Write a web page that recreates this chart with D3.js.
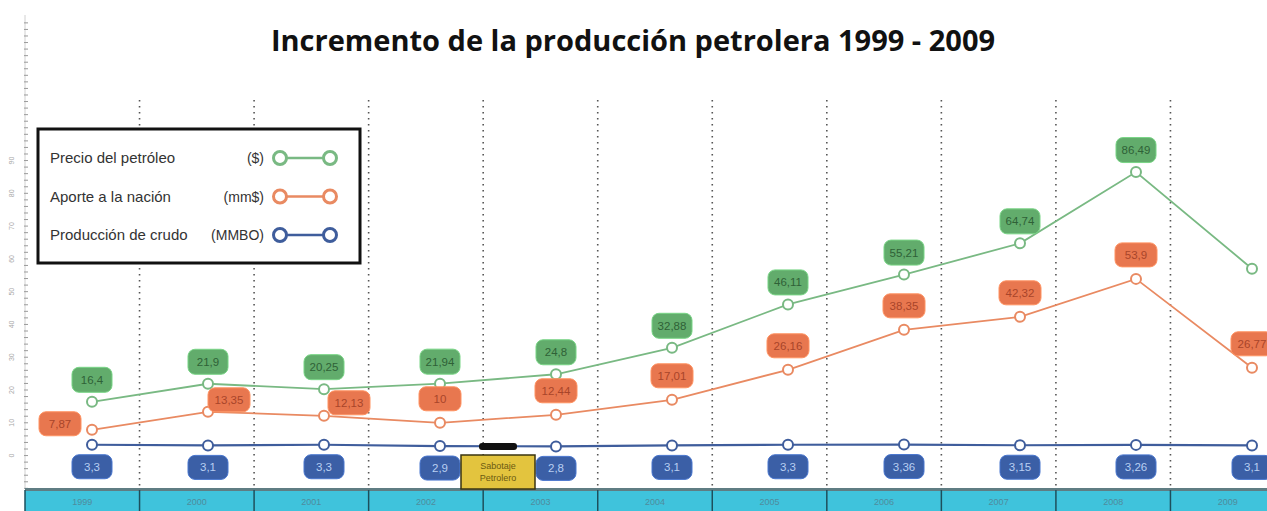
<!DOCTYPE html>
<html>
<head>
<meta charset="utf-8">
<script src="https://cdn.jsdelivr.net/npm/d3@7"></script>
<style>
  body { margin: 0; background: #fff; }
  svg { display: block; }
</style>
</head>
<body>
<svg id="chart" width="1267" height="511"></svg>
<script>
// Years of the series
const years = ["1999", "2000", "2001", "2002", "2003", "2004", "2005", "2006", "2007", "2008", "2009"];
// Precio del petróleo ($)
const precio = [16.4, 21.9, 20.25, 21.94, 24.8, 32.88, 46.11, 55.21, 64.74, 86.49, 57.01];
// Aporte a la nación (mm$)
const aporte = [7.87, 13.35, 12.13, 10.0, 12.44, 17.01, 26.16, 38.35, 42.32, 53.9, 26.77];
// Producción de crudo (MMBO)
const produccion = [3.3, 3.1, 3.3, 2.9, 2.8, 3.1, 3.3, 3.36, 3.15, 3.26, 3.1];
// Years whose price bubble is shown
const precioConEtiqueta = ["1999", "2000", "2001", "2002", "2003", "2004", "2005", "2006", "2007", "2008"];
// Left axis labelled tick values
const yTicks = [0, 10, 20, 30, 40, 50, 60, 70, 80, 90];

const legendItems = [
  { name: "Precio del petróleo", unit: "($)", key: "precio" },
  { name: "Aporte a la nación", unit: "(mm$)", key: "aporte" },
  { name: "Producción de crudo", unit: "(MMBO)", key: "produccion" }
];

const W = 1267, H = 511;
const svg = d3.select("#chart");

const colors = {
  precio:     { line: "#79b983", box: "#62ac6c", text: "#2f6137" },
  aporte:     { line: "#e98a62", box: "#e8774f", text: "#a8452a" },
  produccion: { line: "#3f5d9c", box: "#3b5fa6", text: "#b9cff2" }
};

const fmt = d3.formatLocale({ decimal: ",", thousands: ".", grouping: [3], currency: ["$", ""] }).format(".2~f");

// Scales
const x = d3.scalePoint().domain(years).range([92, 1252]);
const band = d3.scaleBand().domain(years).range([25, 1285]).paddingInner(0).paddingOuter(0);
const y = d3.scaleLinear().domain([-10.2, 134.4]).range([489, 15]);

// Left axis: dense minor ticks with small rotated labels
const axisG = svg.append("g").attr("class", "y-axis");
axisG.append("line")
  .attr("x1", 25).attr("x2", 25).attr("y1", 15).attr("y2", 489)
  .attr("stroke", "#d0d0d0").attr("stroke-width", 1);
axisG.selectAll("line.minor")
  .data(d3.range(-10, 134, 2))
  .join("line")
  .attr("class", "minor")
  .attr("x1", 24).attr("x2", 28)
  .attr("y1", d => y(d)).attr("y2", d => y(d))
  .attr("stroke", "#9a9a9a").attr("stroke-width", 1);
axisG.selectAll("text")
  .data(yTicks)
  .join("text")
  .attr("transform", d => `translate(14,${y(d)}) rotate(-90)`)
  .attr("text-anchor", "middle")
  .attr("font-family", "Liberation Sans Narrow, Liberation Sans, sans-serif")
  .attr("font-size", 7)
  .attr("fill", "#a8a8a8")
  .text(d => d);

// Vertical dotted separators between years
const bounds = years.slice(1).map(yr => band(yr));
svg.append("g").selectAll("line")
  .data(bounds)
  .join("line")
  .attr("x1", d => d).attr("x2", d => d)
  .attr("y1", 100).attr("y2", 489)
  .attr("stroke", "#555")
  .attr("stroke-width", 1.6)
  .attr("stroke-dasharray", "1.6,4.4");

// Bottom strip with year cells
const strip = svg.append("g");
strip.selectAll("rect")
  .data(years)
  .join("rect")
  .attr("x", d => band(d)).attr("y", 490)
  .attr("width", band.bandwidth()).attr("height", 21)
  .attr("fill", "#3fc3dc");
strip.append("line")
  .attr("x1", 25).attr("x2", W).attr("y1", 489.5).attr("y2", 489.5)
  .attr("stroke", "#5f7d83").attr("stroke-width", 3);
strip.selectAll("line.sep")
  .data(years)
  .join("line")
  .attr("class", "sep")
  .attr("x1", d => band(d)).attr("x2", d => band(d))
  .attr("y1", 490).attr("y2", 511)
  .attr("stroke", "#1d4f5c").attr("stroke-width", 1.5);
strip.selectAll("text")
  .data(years)
  .join("text")
  .attr("x", d => band(d) + band.bandwidth() / 2)
  .attr("y", 505)
  .attr("text-anchor", "middle")
  .attr("font-family", "Liberation Sans Narrow, Liberation Sans, sans-serif")
  .attr("font-size", 9)
  .attr("fill", "#4f8c9c")
  .text(d => d);

// Title
svg.append("text")
  .attr("x", 633).attr("y", 51)
  .attr("text-anchor", "middle")
  .attr("font-family", "Open Sans, sans-serif")
  .attr("font-weight", "bold")
  .attr("font-size", 29)
  .attr("fill", "#111")
  .text("Incremento de la producción petrolera 1999 - 2009");

// Series
const series = [
  { key: "aporte", values: aporte },
  { key: "precio", values: precio },
  { key: "produccion", values: produccion }
];
const line = d3.line().x(d => x(d.year)).y(d => y(d.v));

series.forEach(s => {
  const pts = years.map((yr, i) => ({ year: yr, v: s.values[i] }));
  s.pts = pts;
  const g = svg.append("g");
  g.append("path")
    .datum(pts)
    .attr("d", line)
    .attr("fill", "none")
    .attr("stroke", colors[s.key].line)
    .attr("stroke-width", s.key === "produccion" ? 2.2 : 1.8);
  g.selectAll("circle")
    .data(pts)
    .join("circle")
    .attr("cx", d => x(d.year)).attr("cy", d => y(d.v))
    .attr("r", 5)
    .attr("fill", "#fff")
    .attr("stroke", colors[s.key].line)
    .attr("stroke-width", 2);
});

// Value bubbles
function bubble(g, cx, cy, w, h, key, text) {
  g.append("rect")
    .attr("x", cx - w / 2).attr("y", cy - h / 2)
    .attr("width", w).attr("height", h)
    .attr("rx", 7).attr("ry", 7)
    .attr("fill", colors[key].box)
    .attr("stroke", d3.color(colors[key].box).brighter(0.6))
    .attr("stroke-width", 1);
  g.append("text")
    .attr("x", cx).attr("y", cy + 4)
    .attr("text-anchor", "middle")
    .attr("font-family", "Liberation Sans Narrow, Liberation Sans, sans-serif")
    .attr("font-size", 11.5)
    .attr("fill", colors[key].text)
    .text(text);
}
const labels = svg.append("g");
// Placement nudges for the contribution bubbles that sit beside their point
const aporteShift = { "1999": [-32, 18], "2000": [21, 12], "2001": [25, 11] };
series.forEach(s => {
  s.pts.forEach(p => {
    const px = x(p.year), py = y(p.v);
    if (s.key === "precio") {
      if (precioConEtiqueta.includes(p.year)) bubble(labels, px, py - 22, 40, 25, "precio", fmt(p.v));
    } else if (s.key === "aporte") {
      const sh = aporteShift[p.year] || [0, 0];
      bubble(labels, px + sh[0], py - 24 + sh[1], 42, 24, "aporte", fmt(p.v));
    } else {
      bubble(labels, px, py + 22, 40, 24, "produccion", fmt(p.v));
    }
  });
});

// Sabotaje petrolero marker (Dec 2002 - Feb 2003)
const sab = svg.append("g");
const sabX = (x("2002") + x("2003")) / 2;
sab.append("rect")
  .attr("x", sabX - 19).attr("y", y(produccion[3]) - 3)
  .attr("width", 38).attr("height", 7).attr("rx", 3)
  .attr("fill", "#111");
sab.append("rect")
  .attr("x", sabX - 37).attr("y", 455)
  .attr("width", 74).attr("height", 34)
  .attr("fill", "#e3c43e").attr("stroke", "#3a3410").attr("stroke-width", 1.5);
sab.selectAll("text")
  .data(["Sabotaje", "Petrolero"])
  .join("text")
  .attr("x", sabX).attr("y", (d, i) => 469 + i * 12)
  .attr("text-anchor", "middle")
  .attr("font-family", "Liberation Sans Narrow, Liberation Sans, sans-serif")
  .attr("font-size", 9)
  .attr("fill", "#6b5a12")
  .text(d => d);

// Legend
const lg = svg.append("g");
lg.append("rect")
  .attr("x", 38).attr("y", 129).attr("width", 322).attr("height", 134)
  .attr("fill", "#fff").attr("stroke", "#111").attr("stroke-width", 3);
const rowY = d3.scalePoint().domain(legendItems.map(d => d.key)).range([158, 235]);
legendItems.forEach(it => {
  const cy = rowY(it.key);
  lg.append("text")
    .attr("x", 50).attr("y", cy + 5)
    .attr("font-family", "Liberation Sans Narrow, Liberation Sans, sans-serif")
    .attr("font-size", 15)
    .attr("fill", "#333")
    .text(it.name);
  lg.append("text")
    .attr("x", 264).attr("y", cy + 5)
    .attr("text-anchor", "end")
    .attr("font-family", "Liberation Sans Narrow, Liberation Sans, sans-serif")
    .attr("font-size", 14)
    .attr("fill", "#333")
    .text(it.unit);
  lg.append("line")
    .attr("x1", 280).attr("x2", 330).attr("y1", cy).attr("y2", cy)
    .attr("stroke", colors[it.key].line).attr("stroke-width", 2.5);
  lg.selectAll(null)
    .data([280, 330])
    .join("circle")
    .attr("cx", d => d).attr("cy", cy).attr("r", 6.5)
    .attr("fill", "#fff")
    .attr("stroke", colors[it.key].line).attr("stroke-width", 3);
});
</script>
</body>
</html>
